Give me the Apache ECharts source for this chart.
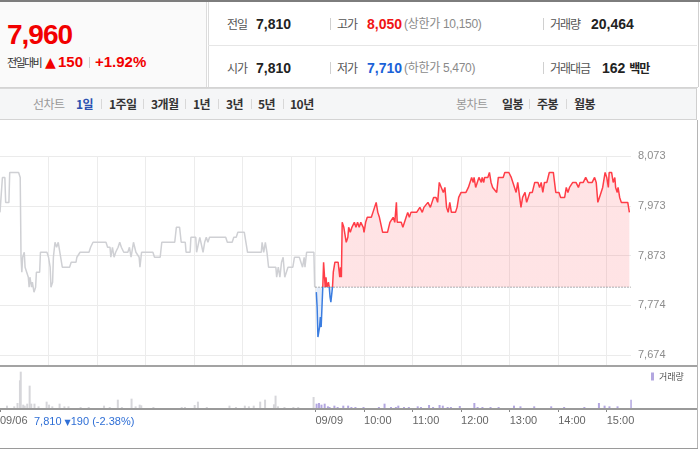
<!DOCTYPE html>
<html><head><meta charset="utf-8">
<script src="https://cdn.jsdelivr.net/npm/echarts@6/dist/echarts.min.js"></script>
<style>
body{margin:0;width:700px;height:450px;position:relative;overflow:hidden;background:#fff;font-family:"Liberation Sans","Noto Sans CJK KR",sans-serif;}
.a{position:absolute;white-space:nowrap;}
.ln{position:absolute;}
.k{font-family:"Noto Sans CJK KR",sans-serif;}
.lab{font-size:12px;color:#555;letter-spacing:-1px;height:20px;line-height:20px;}
.val{font-size:14px;font-weight:bold;color:#222;height:20px;line-height:20px;}
.par{font-size:12px;color:#8a8a8a;height:20px;line-height:20px;letter-spacing:-0.3px;}
.tb{font-size:12px;font-weight:bold;color:#333;height:18px;line-height:18px;top:95px;letter-spacing:-0.5px;}
.tbg{font-size:12px;color:#999;height:18px;line-height:18px;top:95px;letter-spacing:-0.5px;}
.sep{position:absolute;width:1px;height:10px;background:#d8d8d8;top:99px;}
.tsep{position:absolute;width:1px;height:12px;background:#d0d0d0;}
</style></head>
<body>
<div class="ln" style="left:0;top:0;width:700px;height:2px;background:#7d7d7d"></div>
<div class="ln" style="left:0;top:2px;width:206px;height:85px;background:#fafafa;border-right:1px solid #dcdcdc"></div>
<div class="ln" style="left:208px;top:2px;width:489px;height:85px;border-left:1px solid #dcdcdc;border-right:1px solid #cfcfcf"></div>
<div class="ln" style="left:208px;top:45px;width:489px;height:1px;background:#e6e6e6"></div>
<div class="ln" style="left:0;top:87px;width:698px;height:1px;background:#d4d4d4"></div>
<div class="a" style="left:7px;top:21px;font-size:28px;line-height:28px;font-weight:bold;color:#f20000;letter-spacing:-1px">7,960</div>
<div class="a k" style="left:7px;top:53px;height:18px;line-height:18px;font-size:11px;color:#333;letter-spacing:-1.6px">전일대비</div>
<div class="a" style="left:45px;top:53px;height:18px;line-height:18px;font-size:14px;color:#f20000;font-family:'DejaVu Sans'">▲</div>
<div class="a" style="left:58px;top:53px;height:18px;line-height:18px;font-size:15px;font-weight:bold;color:#f20000">150</div>
<div class="ln" style="left:89px;top:57px;width:1px;height:11px;background:#cfcfcf"></div>
<div class="a" style="left:95px;top:53px;height:18px;line-height:18px;font-size:15px;font-weight:bold;color:#f20000">+1.92%</div>
<div class="a lab k" style="left:227px;top:14px">전일</div>
<div class="a val" style="left:256px;top:14px">7,810</div>
<div class="tsep" style="left:330px;top:18px"></div>
<div class="a lab k" style="left:337px;top:14px">고가</div>
<div class="a val" style="left:367px;top:14px;color:#f01414">8,050</div>
<div class="a par" style="left:404px;top:14px">(상한가 10,150)</div>
<div class="tsep" style="left:543px;top:18px"></div>
<div class="a lab k" style="left:550px;top:14px">거래량</div>
<div class="a val" style="left:591px;top:14px">20,464</div>
<div class="a lab k" style="left:227px;top:58px">시가</div>
<div class="a val" style="left:256px;top:58px">7,810</div>
<div class="tsep" style="left:330px;top:62px"></div>
<div class="a lab k" style="left:337px;top:58px">저가</div>
<div class="a val" style="left:367px;top:58px;color:#1a62d8">7,710</div>
<div class="a par" style="left:404px;top:58px">(하한가 5,470)</div>
<div class="tsep" style="left:543px;top:62px"></div>
<div class="a lab k" style="left:550px;top:58px">거래대금</div>
<div class="a val" style="left:602px;top:58px">162 <span class="k" style="font-size:12px;letter-spacing:-1px">백만</span></div>
<div class="ln" style="left:0;top:88px;width:697px;height:32px;background:#f5f6f7;border-top:1px solid #d9d9d9;border-bottom:1px solid #d4d4d4;border-right:1px solid #cfcfcf;box-sizing:border-box"></div>
<div class="a tbg k" style="left:33px">선차트</div>
<div class="a tb k" style="left:76px;color:#2c50b0">1일</div>
<div class="sep" style="left:101px"></div>
<div class="a tb k" style="left:109px">1주일</div>
<div class="sep" style="left:143px"></div>
<div class="a tb k" style="left:151px">3개월</div>
<div class="sep" style="left:185px"></div>
<div class="a tb k" style="left:193px">1년</div>
<div class="sep" style="left:218px"></div>
<div class="a tb k" style="left:226px">3년</div>
<div class="sep" style="left:251px"></div>
<div class="a tb k" style="left:258px">5년</div>
<div class="sep" style="left:283px"></div>
<div class="a tb k" style="left:290px">10년</div>
<div class="a tbg k" style="left:456px">봉차트</div>
<div class="a tb k" style="left:502px">일봉</div>
<div class="sep" style="left:529px"></div>
<div class="a tb k" style="left:537px">주봉</div>
<div class="sep" style="left:566px"></div>
<div class="a tb k" style="left:574px">월봉</div>
<div class="ln" style="left:697px;top:120px;width:1px;height:329px;background:#b5b5b5"></div>
<div class="ln" style="left:0;top:448px;width:698px;height:1px;background:#9a9a9a"></div>
<div id="chart" style="position:absolute;left:0;top:121px;width:697px;height:327px"></div>
<div class="ln" style="left:0;top:365px;width:697px;height:2px;background:#a3a3a3;z-index:2"></div>
<div class="ln" style="left:0;top:408px;width:697px;height:2px;background:#9a9a9a;z-index:2"></div>
<div class="a" style="left:34px;top:414px;height:14px;line-height:14px;font-size:11px;color:#2f6fd6;z-index:3">7,810 <span style="font-family:'DejaVu Sans';font-size:8px">▼</span>190 (-2.38%)</div>
<script>
const prevMinutes = [0,2,3,6,7,11,12,23,25,26,
 27,28,30,31,33,35,36,37,39,40,
 42,44,45,49,50,58,60,62,63,65,
 66,68,70,72,74,77,86,88,94,95,
 99,110,112,115,131,133,136,137,139,141,
 143,146,148,150,153,158,160,162,164,165,
 168,170,172,173,175,189,191,198,200,216,
 218,222,224,229,230,235,236,242,243,245,
 247,249,251,253,255,257,259,279,281,287,
 289,292,294,302,304,306,323,324,326,328,
 330,332,341,342,344,346,348,350,352,354,
 356,362,364,370,372,374,376,377,379,388,
 389];
const prevPrices = [7960,7960,8030,8030,7980,7980,8040,8040,8030,7870,
 7840,7870,7880,7850,7840,7830,7810,7830,7810,7820,
 7800,7810,7840,7840,7880,7880,7870,7850,7810,7820,
 7870,7900,7890,7900,7880,7850,7850,7860,7860,7870,
 7880,7880,7890,7900,7900,7890,7890,7870,7890,7870,
 7880,7890,7900,7890,7880,7880,7890,7870,7890,7900,
 7880,7880,7870,7850,7880,7880,7870,7870,7900,7900,
 7930,7930,7900,7900,7880,7880,7910,7910,7880,7880,
 7910,7910,7880,7900,7910,7900,7910,7910,7900,7900,
 7910,7910,7920,7920,7900,7880,7880,7900,7880,7900,
 7880,7850,7850,7830,7850,7830,7860,7870,7830,7830,
 7850,7850,7870,7870,7860,7850,7870,7850,7880,7880,
 7810];
const curMinutes = [391,392,393,395,396,397,398,399,400,402,
 403,404,406,407,408,409,411,412,414,418,
 420,421,422,423,425,426,428,430,431,433,
 435,438,440,442,444,446,449,450,452,454,
 456,459,461,463,465,467,469,471,473,479,
 482,484,486,488,490,491,496,498,500,502,
 504,506,508,512,515,519,522,524,526,529,
 532,534,536,539,541,543,545,548,550,552,
 554,556,558,563,565,567,570,576,579,581,
 583,585,586,588,590,592,595,596,598,599,
 603,605,607,609,611,614,616,622,624,629,
 632,634,636,638,640,642,644,646,649,651,
 653,655,658,661,665,667,669,671,673,676,
 679,684,687,691,693,698,700,702,704,708,
 712,715,717,721,724,727,732,735,737,739,
 741,743,745,748,750,752,753,756,758,760,
 761,763,764,766,768,776,778];
const curPrices = [7800,7770,7710,7730,7750,7730,7770,7810,7860,7810,
 7830,7810,7820,7810,7790,7780,7810,7840,7860,7860,
 7830,7850,7830,7940,7930,7930,7900,7910,7930,7920,
 7930,7940,7930,7940,7930,7940,7930,7920,7940,7950,
 7950,7950,7960,7960,7980,7960,7950,7950,7920,7920,
 7940,7940,7950,7940,7980,7940,7940,7930,7940,7950,
 7960,7950,7960,7960,7960,7970,7960,7970,7970,7980,
 7970,7980,7990,7990,7980,8020,8020,8000,8010,7970,
 7960,7980,7960,7960,7970,7990,8000,8000,8010,8010,
 8030,8020,8030,8010,8020,8030,8020,8030,8020,8030,
 8030,8040,8020,8010,8010,8000,8030,8030,8040,8040,
 8030,8020,8020,8000,8020,8020,7970,7990,8000,7980,
 7980,8000,8000,8020,8020,8010,8020,8000,8020,8020,
 8040,8040,8000,8000,7990,7990,8010,8000,8010,8020,
 8020,8010,8020,8020,8030,8020,8020,8030,8020,7980,
 7990,8000,8010,8040,8030,8010,8040,8040,8020,8030,
 8010,8000,8010,7990,7980,7980,7960];
const prevVolMinutes = [0,10,19,23,26,27,30,32,35,38,40,44,49,59,62,66,75,81,86,101,111,130,137,147,152,164,169,174,176,191,226,230,242,246,257,285,293,304,309,315,323,329,340,342,345,353,364,370,389];
const prevVolumes = [230,70,50,150,830,1090,100,70,130,670,130,130,50,190,100,50,130,50,50,30,30,70,30,250,30,280,50,100,80,30,30,30,90,190,30,70,30,70,50,70,190,250,110,370,50,30,30,30,330];
const curVolMinutes = [390,393,396,400,404,406,412,416,423,429,433,438,448,467,474,482,488,491,498,504,515,519,529,534,542,546,552,556,567,585,589,595,605,615,634,642,659,680,696,721,739,746,752,762,779];
const curVolumes = [130,150,100,130,50,30,70,30,70,70,30,30,30,30,130,30,30,70,30,30,50,30,90,30,90,70,30,30,60,150,30,30,30,30,70,50,50,50,30,30,150,70,50,50,250];
const prevClose = 7810;
const yMin = 7674, yMax = 8073, yStep = 99.75;
const yTickLabels = ['7,674','7,774','7,873','7,973','8,073'];
const timeTickValues = [0,390,450,510,570,630,690,750];
const timeTickLabels = ['09/06','09/09','10:00','11:00','12:00','13:00','14:00','15:00'];
const sessionStart = 390, xMax = 780, hourStep = 60;
const volMax = 1200;

const zip = (a, b) => a.map((v, i) => [v, b[i]]);
const chart = echarts.init(document.getElementById('chart'));
const plotW = 631, plotTop = 35;
const sessionW = plotW * sessionStart / xMax;
chart.setOption({
  animation: false,
  grid: [
    {left: 0, top: plotTop, width: plotW, height: 199, outerBoundsMode: 'none'},
    {left: 0, top: plotTop, width: sessionW, height: 209, outerBoundsMode: 'none'},
    {left: sessionW, top: plotTop, width: plotW - sessionW, height: 209, outerBoundsMode: 'none'},
    {left: 0, top: 247, width: plotW, height: 40, outerBoundsMode: 'none'}
  ],
  xAxis: [
    {gridIndex: 0, type: 'value', min: 0, max: xMax, show: false},
    {gridIndex: 1, type: 'value', min: 0, max: sessionStart, interval: hourStep,
     axisLine: {show: false}, axisTick: {show: false}, axisLabel: {show: false},
     splitLine: {show: true, showMinLine: false, showMaxLine: true, lineStyle: {color: '#ececec'}}},
    {gridIndex: 2, type: 'value', min: sessionStart, max: xMax, interval: hourStep,
     axisLine: {show: false}, axisTick: {show: false}, axisLabel: {show: false},
     splitLine: {show: true, showMinLine: false, showMaxLine: false, lineStyle: {color: '#ececec'}}},
    {gridIndex: 3, type: 'value', min: 0, max: xMax,
     axisLine: {show: false}, splitLine: {show: false},
     axisTick: {show: true, customValues: timeTickValues, length: 4, lineStyle: {color: '#888'}},
     axisLabel: {customValues: timeTickValues, formatter: v => timeTickLabels[timeTickValues.indexOf(v)],
       align: 'left', margin: 7, fontSize: 11, color: '#666', fontFamily: 'Liberation Sans', showMinLabel: true, showMaxLabel: true}}
  ],
  yAxis: [
    {gridIndex: 0, type: 'value', position: 'right', min: yMin, max: yMax, interval: yStep,
     axisLine: {show: false}, axisTick: {show: false},
     splitLine: {lineStyle: {color: '#ebebeb', width: 1}},
     axisLabel: {formatter: (v, i) => yTickLabels[i], margin: 7, fontSize: 11, color: '#8c8c8c', fontFamily: 'Liberation Sans'}},
    {gridIndex: 1, type: 'value', show: false, min: 0, max: 1},
    {gridIndex: 2, type: 'value', show: false, min: 0, max: 1},
    {gridIndex: 3, type: 'value', show: false, min: 0, max: volMax}
  ],
  visualMap: {type: 'piecewise', show: false, dimension: 1, seriesIndex: 1,
    pieces: [{min: prevClose, max: yMax + 1000, color: '#ff3d47'}, {min: yMin - 1000, max: prevClose, color: '#3b7de0'}]},
  legend: {data: ['거래량'], left: 651, top: 251, padding: 0, itemWidth: 3, itemHeight: 8, icon: 'rect',
    selectedMode: false, textStyle: {fontSize: 9, color: '#555', fontFamily: 'Noto Sans CJK KR'}},
  series: [
    {type: 'line', name: 'prev', xAxisIndex: 0, yAxisIndex: 0, data: zip(prevMinutes, prevPrices),
     symbol: 'none', lineStyle: {color: '#cfd0d4', width: 1.5}, itemStyle: {color: '#cfd0d4'}, z: 3},
    {type: 'line', name: 'cur', xAxisIndex: 0, yAxisIndex: 0, data: zip(curMinutes, curPrices),
     symbol: 'none', lineStyle: {width: 1.5}, areaStyle: {origin: prevClose, opacity: 0.14}, z: 3},
    {type: 'line', name: 'base', xAxisIndex: 0, yAxisIndex: 0,
     data: [[sessionStart, prevClose], [xMax, prevClose]], symbol: 'none', silent: true,
     lineStyle: {color: '#666', type: [1, 2], width: 1}, itemStyle: {color: '#666'}, z: 4},
    {type: 'bar', name: 'prevVol', xAxisIndex: 3, yAxisIndex: 3, data: zip(prevVolMinutes, prevVolumes),
     barWidth: 2, itemStyle: {color: '#d6d6da'}},
    {type: 'bar', name: '거래량', xAxisIndex: 3, yAxisIndex: 3, data: zip(curVolMinutes, curVolumes),
     barWidth: 2, itemStyle: {color: '#b3a7e0'}}
  ]
});
</script>
</body></html>
